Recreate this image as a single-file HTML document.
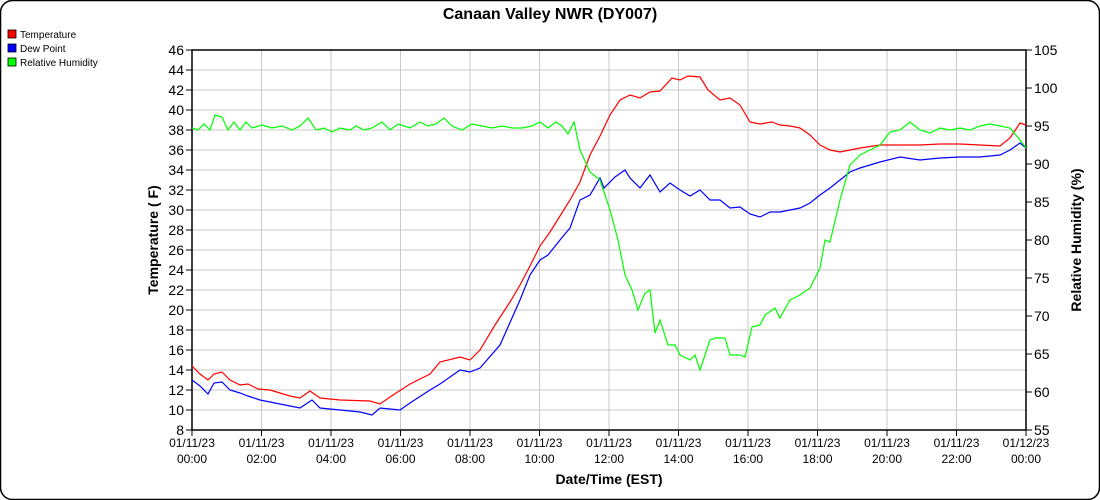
<!DOCTYPE html>
<html><head><meta charset="utf-8"><style>
body{margin:0;background:#fff}
svg{display:block;font-family:"Liberation Sans",sans-serif}
</style></head><body>
<svg width="1100" height="500" viewBox="0 0 1100 500">
<rect x="0.5" y="0.5" width="1099" height="499" rx="12" fill="#fff" stroke="#000" stroke-width="1.5"/>
<text x="550" y="19" text-anchor="middle" font-size="16" font-weight="bold">Canaan Valley NWR (DY007)</text>
<rect x="8" y="30" width="8" height="8" fill="#f00" stroke="#000" stroke-width="0.8"/><text x="20" y="38" font-size="10">Temperature</text>
<rect x="8" y="44" width="8" height="8" fill="#00f" stroke="#000" stroke-width="0.8"/><text x="20" y="52" font-size="10">Dew Point</text>
<rect x="8" y="58" width="8" height="8" fill="#0f0" stroke="#000" stroke-width="0.8"/><text x="20" y="66" font-size="10">Relative Humidity</text>
<g stroke="#c8c8c8" stroke-width="1" id="grid"></g>
<g id="axes"></g>
<polyline fill="none" stroke="#f00" stroke-width="1.2" points="192,366 200,374 208,380 214,374 222,372 230,380 240,385 248,384 258,389 270,390 290,396 300,398 310,391 320,398 340,400 370,401 380,404 390,397 410,384 430,374 440,362 460,357 470,360 480,350 495,325 510,302 520,285 530,266 540,246 550,232 560,216 570,200 580,182 590,155 600,136 610,115 620,100 630,95 640,98 650,92 660,91 672,78 680,80 688,76 700,77 708,90 720,100 730,98 740,105 750,122 760,124 772,122 780,125 790,126 800,128 810,135 820,145 830,150 840,152 860,148 880,145 900,145 920,145 940,144 960,144 980,145 1000,146 1010,138 1020,123 1026,125"/>
<polyline fill="none" stroke="#00f" stroke-width="1.2" points="192,380 200,386 208,394 214,383 222,382 230,390 240,393 248,396 260,400 280,404 300,408 312,400 320,408 340,410 360,412 372,415 380,408 400,410 410,403 430,390 440,384 460,370 470,372 480,368 500,345 520,300 530,275 540,260 548,255 560,240 570,228 580,200 590,195 600,178 604,188 615,177 625,170 630,178 640,188 650,175 660,192 670,183 680,190 690,196 700,190 710,200 720,200 730,208 740,207 750,214 760,217 770,212 780,212 790,210 800,208 810,203 820,195 830,188 840,180 850,172 860,168 880,162 900,157 920,160 940,158 960,157 980,157 1000,155 1010,150 1020,143 1026,148"/>
<polyline fill="none" stroke="#0f0" stroke-width="1.2" points="192,128 198,130 204,124 210,130 215,115 222,117 228,130 234,122 240,130 246,122 252,128 262,125 272,128 282,126 292,130 300,126 308,118 316,130 324,128 332,132 340,128 350,130 356,126 364,130 372,128 382,122 390,130 398,124 410,128 420,122 428,126 436,124 444,118 452,126 462,130 472,124 482,126 492,128 502,126 512,128 522,128 532,126 540,122 548,128 556,122 562,126 568,134 574,122 580,150 590,172 600,180 610,210 618,240 625,275 632,290 638,310 645,293 650,290 655,333 660,320 668,345 675,345 680,355 690,360 695,355 700,370 710,340 715,338 725,338 730,355 740,355 745,357 752,327 760,325 765,315 775,308 780,318 790,300 800,295 810,288 820,268 825,240 830,242 840,200 850,165 860,155 870,150 880,145 890,132 900,130 910,122 920,130 930,133 940,128 950,130 960,128 970,130 980,126 990,124 1000,126 1010,128 1020,140 1026,148"/>
<text transform="translate(158,240) rotate(-90)" text-anchor="middle" font-size="14" font-weight="bold">Temperature ( F)</text>
<text transform="translate(1081,240) rotate(-90)" text-anchor="middle" font-size="14" font-weight="bold">Relative Humidity (%)</text>
<text x="609" y="484" text-anchor="middle" font-size="14" font-weight="bold">Date/Time (EST)</text>
</svg>
<script>
var ns="http://www.w3.org/2000/svg",g=document.getElementById('grid'),a=document.getElementById('axes');
function el(p,t,at,txt){var e=document.createElementNS(ns,t);for(var k in at)e.setAttribute(k,at[k]);if(txt)e.textContent=txt;p.appendChild(e);}
for(var T=8;T<=46;T+=2){var y=50+(46-T)*10;el(g,'line',{x1:192,x2:1026,y1:y,y2:y});el(a,'line',{x1:186,x2:192,y1:y,y2:y,stroke:'#000'});el(a,'text',{x:184,y:y+5,'text-anchor':'end','font-size':14},String(T));}
for(var R=55;R<=105;R+=5){var y=50+(105-R)*7.6;el(a,'line',{x1:1026,x2:1032,y1:y,y2:y,stroke:'#000'});el(a,'text',{x:1034,y:y+5,'font-size':14},String(R));}
for(var h=0;h<=24;h+=2){var x=192+h*34.75;el(g,'line',{x1:x,x2:x,y1:50,y2:430});el(a,'line',{x1:x,x2:x,y1:430,y2:436,stroke:'#000'});
var d=h==24?'01/12/23':'01/11/23',t=(h==24?'00':(h<10?'0'+h:h))+':00';
el(a,'text',{x:x,y:447,'text-anchor':'middle','font-size':12},d);el(a,'text',{x:x,y:463,'text-anchor':'middle','font-size':12},t);}
el(a,'rect',{x:192,y:50,width:834,height:380,fill:'none',stroke:'#000','stroke-width':1.5});
</script>
</body></html>
